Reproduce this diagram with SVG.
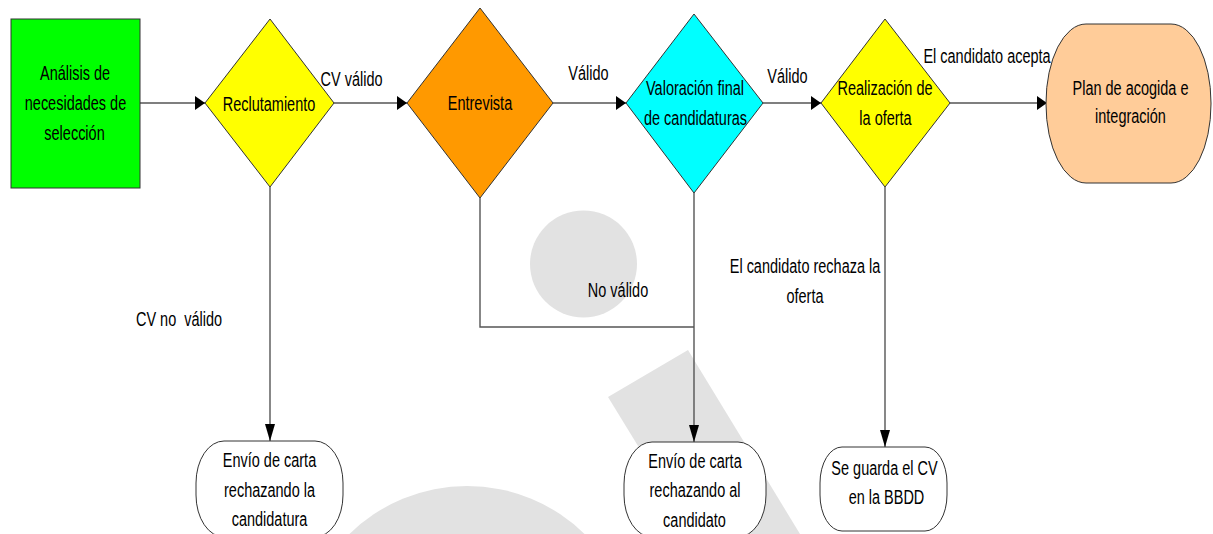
<svg xmlns="http://www.w3.org/2000/svg" width="1213" height="534" viewBox="0 0 1213 534">
<style>
  .t { font-family: "Liberation Sans", Arial, sans-serif; font-size: 21px; fill: #000; white-space: pre; text-anchor: middle; }
  .shape { stroke: #333; stroke-width: 1; }
  .wm { fill: #e2e2e2; stroke: none; }
  .conn { fill: none; stroke: #555; stroke-width: 1.4; }
</style>
<defs>
  <marker id="arrH" markerUnits="userSpaceOnUse" viewBox="0 0 10 14" markerWidth="10" markerHeight="14" refX="10" refY="7" orient="auto">
    <path d="M0,0 L10,7 L0,14 z" fill="#000"/>
  </marker>
  <marker id="arrV" markerUnits="userSpaceOnUse" viewBox="0 0 17 10" markerWidth="17" markerHeight="10" refX="17" refY="5" orient="auto">
    <path d="M0,0 L17,5 L0,10 z" fill="#000"/>
  </marker>
</defs>
<rect width="1213" height="534" fill="#fff"/>

<g id="watermark">
  <circle class="wm" cx="583.5" cy="264" r="53.5"/>
  <circle class="wm" cx="467" cy="654" r="168"/>
  <polygon class="wm" points="608,397 688,350 800,534 692,534"/>
</g>

<g id="connectors">
  <path class="conn" d="M140,103 H205" marker-end="url(#arrH)"/>
  <path class="conn" d="M334,103 H407" marker-end="url(#arrH)"/>
  <path class="conn" d="M553,103 H626" marker-end="url(#arrH)"/>
  <path class="conn" d="M763,103 H821" marker-end="url(#arrH)"/>
  <path class="conn" d="M950,103 H1047" marker-end="url(#arrH)"/>
  <path class="conn" d="M270,187 V441" marker-end="url(#arrV)"/>
  <path class="conn" d="M480,198 V327 H694"/>
  <path class="conn" d="M694,193 V442" marker-end="url(#arrV)"/>
  <path class="conn" d="M885,187 V447" marker-end="url(#arrV)"/>
</g>

<g id="labels">
  <text class="t" transform="translate(351.5,86) scale(0.69,1)">CV válido</text>
  <text class="t" transform="translate(588.5,80) scale(0.69,1)">Válido</text>
  <text class="t" transform="translate(787.5,83) scale(0.69,1)">Válido</text>
  <text class="t" transform="translate(987,63) scale(0.69,1)">El candidato acepta</text>
  <text class="t" transform="translate(179,326) scale(0.69,1)">CV no  válido</text>
  <text class="t" transform="translate(618,297) scale(0.69,1)">No válido</text>
  <text class="t" transform="translate(805,273) scale(0.69,1)">El candidato rechaza la</text>
  <text class="t" transform="translate(805,303) scale(0.69,1)">oferta</text>
</g>

<g id="analisis">
  <rect class="shape" x="11" y="19" width="129" height="169" fill="#00ff00"/>
  <text class="t" transform="translate(75,80) scale(0.69,1)">Análisis de</text>
  <text class="t" transform="translate(75.5,110) scale(0.69,1)">necesidades de</text>
  <text class="t" transform="translate(74.5,140) scale(0.69,1)">selección</text>
</g>

<g id="reclutamiento">
  <polygon class="shape" points="270,19 334,103 270,187 205,103" fill="#ffff00"/>
  <text class="t" transform="translate(269,111) scale(0.69,1)">Reclutamiento</text>
</g>

<g id="entrevista">
  <polygon class="shape" points="480,8 553,103 480,198 407,103" fill="#ff9900"/>
  <text class="t" transform="translate(480,110) scale(0.69,1)">Entrevista</text>
</g>

<g id="valoracion">
  <polygon class="shape" points="694,14 763,103 694,193 626,103" fill="#00ffff"/>
  <text class="t" transform="translate(695,95) scale(0.69,1)">Valoración final</text>
  <text class="t" transform="translate(695.5,125) scale(0.69,1)">de candidaturas</text>
</g>

<g id="realizacion">
  <polygon class="shape" points="885,19 950,103 885,187 821,103" fill="#ffff00"/>
  <text class="t" transform="translate(885,95) scale(0.69,1)">Realización de</text>
  <text class="t" transform="translate(885.5,125) scale(0.69,1)">la oferta</text>
</g>

<g id="plan">
  <rect class="shape" x="1046" y="24" width="165" height="159" rx="40" ry="79" fill="#ffcc99"/>
  <text class="t" transform="translate(1130.5,95) scale(0.69,1)">Plan de acogida e</text>
  <text class="t" transform="translate(1130.5,123) scale(0.69,1)">integración</text>
</g>

<g id="envio1">
  <rect class="shape" x="196" y="441" width="147" height="96" rx="28" ry="42" fill="#fff"/>
  <text class="t" transform="translate(269.5,467) scale(0.69,1)">Envío de carta</text>
  <text class="t" transform="translate(269.5,497) scale(0.69,1)">rechazando la</text>
  <text class="t" transform="translate(269.5,526) scale(0.69,1)">candidatura</text>
</g>

<g id="envio2">
  <rect class="shape" x="624" y="442" width="142" height="95" rx="28" ry="42" fill="#fff"/>
  <text class="t" transform="translate(695,468) scale(0.69,1)">Envío de carta</text>
  <text class="t" transform="translate(695,497) scale(0.69,1)">rechazando al</text>
  <text class="t" transform="translate(694.5,527) scale(0.69,1)">candidato</text>
</g>

<g id="guarda">
  <rect class="shape" x="820" y="447" width="127" height="84" rx="22" ry="36" fill="#fff"/>
  <text class="t" transform="translate(884.5,475) scale(0.69,1)">Se guarda el CV</text>
  <text class="t" transform="translate(886.5,504) scale(0.69,1)">en la BBDD</text>
</g>
</svg>
